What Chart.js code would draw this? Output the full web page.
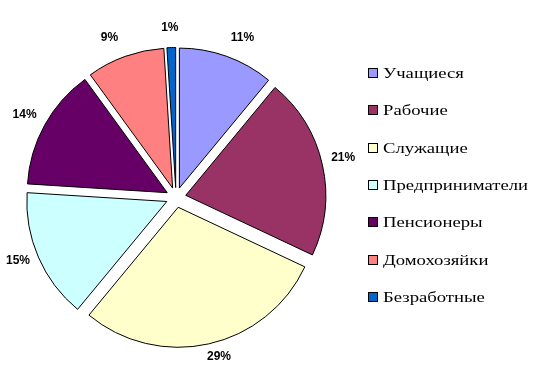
<!DOCTYPE html>
<html>
<head>
<meta charset="utf-8">
<script src="https://cdn.jsdelivr.net/npm/chart.js@4/dist/chart.umd.min.js"></script>
<style>
html,body{margin:0;padding:0;background:#fff;}
#wrap{width:543px;height:366px;position:relative;}
</style>
</head>
<body>
<div id="wrap"><canvas id="c" width="543" height="366"></canvas></div>
<script>
const categories = ["Учащиеся","Рабочие","Служащие","Предприниматели","Пенсионеры","Домохозяйки","Безработные"];
const values = [11, 21, 29, 15, 14, 9, 1];
const colors = ["#9999FF","#993366","#FFFFCC","#CCFFFF","#660066","#FF8080","#0066CC"];

const EXPLODE = 10;

const explodePlugin = {
  id: 'explode',
  beforeDatasetDraw(chart, args) {
    const meta = chart.getDatasetMeta(args.index);
    meta.data.forEach(arc => {
      if (arc._patched) return;
      const orig = arc.draw.bind(arc);
      arc.draw = function(ctx) {
        const mid = (this.startAngle + this.endAngle) / 2;
        ctx.save();
        ctx.translate(Math.cos(mid) * EXPLODE, Math.sin(mid) * EXPLODE);
        orig(ctx);
        ctx.restore();
      };
      arc._patched = true;
    });
  }
};

const labelPlugin = {
  id: 'pctLabels',
  afterDatasetsDraw(chart) {
    const ctx = chart.ctx;
    const meta = chart.getDatasetMeta(0);
    const total = values.reduce((a,b)=>a+b,0);
    ctx.save();
    ctx.font = 'bold 12px "Liberation Sans", Arial, sans-serif';
    ctx.fillStyle = '#000';
    ctx.textAlign = 'center';
    ctx.textBaseline = 'middle';
    meta.data.forEach((arc, i) => {
      const p = arc.getProps(['x','y','startAngle','endAngle','outerRadius'], true);
      const mid = (p.startAngle + p.endAngle) / 2;
      const txt = Math.round(values[i] / total * 100) + '%';
      const c = Math.cos(mid), s = Math.sin(mid);
      const ax = p.x + c * (p.outerRadius + EXPLODE);
      const ay = p.y + s * (p.outerRadius + EXPLODE);
      const g = 8, hw = 13, hh = 8.5;
      const fx = Math.sign(c) * Math.min(1, Math.abs(c) * 3);
      const lx = ax + c * g + hw * fx;
      const ly = ay + s * g + hh * s;
      ctx.fillText(txt, lx, ly - 3);
    });
    ctx.restore();
  }
};

const legendPlugin = {
  id: 'sideLegend',
  afterDraw(chart) {
    const ctx = chart.ctx;
    ctx.save();
    ctx.font = '15px "Liberation Serif", "Times New Roman", "DejaVu Serif", serif';
    ctx.textBaseline = 'middle';
    ctx.textAlign = 'left';
    let maxW = 0;
    categories.forEach(n => { maxW = Math.max(maxW, ctx.measureText(n).width); });
    const sx = 145 / maxW;
    const x0 = 368, y0 = 73, step = 37.3;
    categories.forEach((name, i) => {
      const y = Math.round(y0 + i * step);
      ctx.fillStyle = colors[i];
      ctx.fillRect(x0 + 0.5, y - 4.5, 9, 9);
      ctx.strokeStyle = '#000';
      ctx.lineWidth = 1;
      ctx.strokeRect(x0 + 0.5, y - 4.5, 9, 9);
      ctx.fillStyle = '#000';
      ctx.save();
      ctx.translate(x0 + 15, y + 1);
      ctx.scale(sx, 1);
      ctx.fillText(name, 0, 0);
      ctx.restore();
    });
    ctx.restore();
  }
};

new Chart(document.getElementById('c'), {
  type: 'pie',
  data: {
    labels: categories,
    datasets: [{
      data: values,
      backgroundColor: colors,
      borderColor: '#000',
      borderWidth: 1,
      offset: 0,
      radius: 140
    }]
  },
  options: {
    responsive: false,
    animation: false,
    devicePixelRatio: 1,
    layout: { padding: { left: 16, top: 34, right: 207, bottom: 5 } },
    plugins: {
      legend: { display: false },
      tooltip: { enabled: false }
    }
  },
  plugins: [explodePlugin, labelPlugin, legendPlugin]
});
</script>
</body>
</html>
